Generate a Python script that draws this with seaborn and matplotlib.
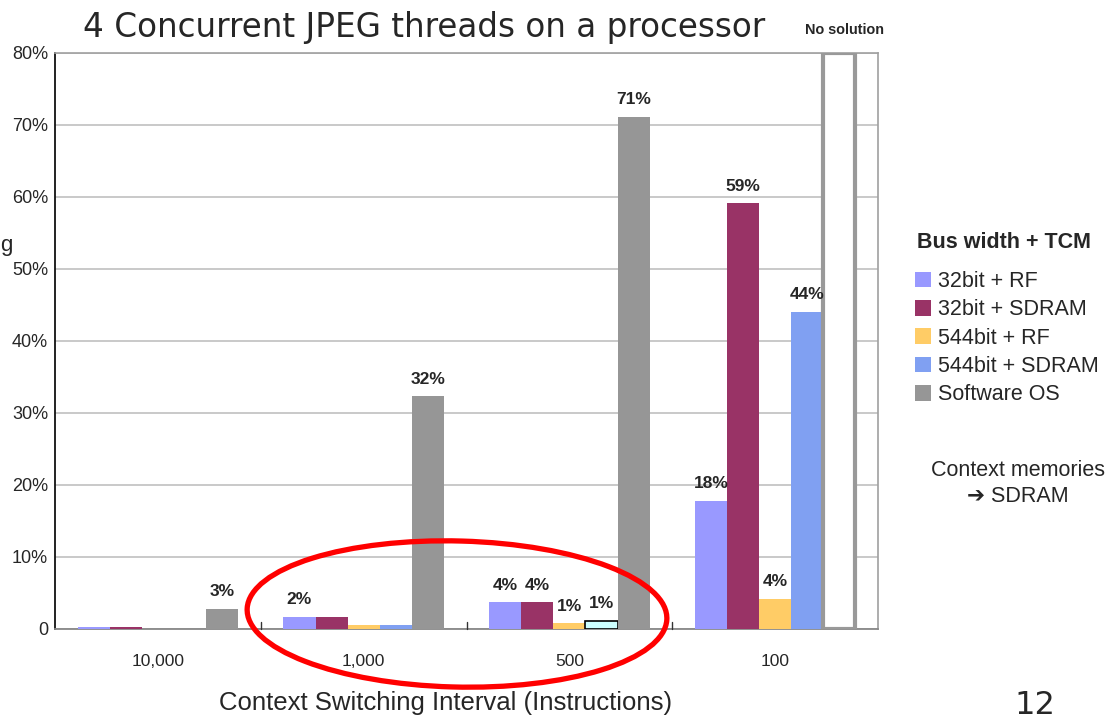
import numpy as np
import pandas as pd
import matplotlib
matplotlib.use("Agg")
import matplotlib.pyplot as plt
import seaborn as sns
from matplotlib.patches import Ellipse, Patch

# ---- data -------------------------------------------------------------
intervals = ["10,000", "1,000", "500", "100"]
series = ["32bit + RF", "32bit + SDRAM", "544bit + RF", "544bit + SDRAM", "Software OS"]

bit32_rf = [0.3, 1.7, 3.7, 17.8]
bit32_sdram = [0.3, 1.7, 3.7, 59.1]
bit544_rf = [0.0, 0.5, 0.8, 4.2]
bit544_sdram = [0.0, 0.6, 1.1, 44.0]
software_os = [2.8, 32.3, 71.1, None]   # no feasible solution at 100 instructions
no_solution_level = 80

# which bars carry a value label
show_label = {
    "32bit + RF":     [False, True, True, True],
    "32bit + SDRAM":  [False, False, True, True],
    "544bit + RF":    [False, False, True, True],
    "544bit + SDRAM": [False, False, True, True],
    "Software OS":    [True, True, True, False],
}

colors = ["#9999ff", "#993366", "#ffcc66", "#80a0f2", "#969696"]
y_ticks = [0, 10, 20, 30, 40, 50, 60, 70, 80]
y_tick_labels = ["0"] + [f"{t}%" for t in y_ticks[1:]]

# ---- frame ------------------------------------------------------------
values = [bit32_rf, bit32_sdram, bit544_rf, bit544_sdram,
          [no_solution_level if v is None else v for v in software_os]]
rows = []
for name, vals in zip(series, values):
    for cat, v in zip(intervals, vals):
        rows.append({"interval": cat, "series": name, "overhead": v})
df = pd.DataFrame(rows)

sns.set_theme(style="white")
plt.rcParams["font.family"] = ["Liberation Sans", "DejaVu Sans"]

fig = plt.figure(figsize=(11.12, 7.2), dpi=100)
ax = fig.add_axes([0.0495, 0.1264, 0.7401, 0.8000])

sns.barplot(data=df, x="interval", y="overhead", hue="series",
            order=intervals, hue_order=series, palette=colors,
            width=0.78, saturation=1, errorbar=None, legend=False, ax=ax,
            linewidth=0, zorder=3)

ax.set_xlim(-0.5, len(intervals) - 0.5)
ax.set_ylim(0, 80)
ax.set_yticks(y_ticks)
ax.set_yticklabels(y_tick_labels, fontsize=13)
ax.set_xticks(range(len(intervals)))
ax.set_xticklabels(intervals, fontsize=12.5)
ax.tick_params(axis="x", length=0, pad=18)
ax.tick_params(axis="y", length=0, pad=5)
# group separators on the category axis
for b in np.arange(0.5, len(intervals) - 0.5, 1.0):
    ax.plot([b, b], [0, 1.0], color="#333333", lw=1, zorder=4, clip_on=False)

ax.yaxis.grid(True, color="#c0c0c0", lw=1.2, zorder=0)
ax.set_axisbelow(True)
ax.spines["left"].set_color("#111111")
ax.spines["left"].set_linewidth(1.3)
ax.spines["bottom"].set_color("#888888")
ax.spines["bottom"].set_linewidth(1.3)
for side in ["top", "right"]:
    ax.spines[side].set_color("#a0a0a0")
    ax.spines[side].set_linewidth(1.2)

ax.set_xlabel("Context Switching Interval (Instructions)", fontsize=18.5)
ax.xaxis.set_label_coords(0.474, -0.128)
ax.xaxis.label.set_va("center")
ax.set_ylabel("")

# ---- restyle special bars & value labels -------------------------------
for name, container in zip(series, ax.containers):
    for bar in container.patches:
        idx = int(round(bar.get_x() + bar.get_width() / 2))
        h = bar.get_height()
        if name == "Software OS" and software_os[idx] is None:
            bar.set_facecolor("white")
            bar.set_edgecolor("#999999")
            bar.set_linewidth(3)
            continue
        if name == "544bit + SDRAM" and intervals[idx] == "500":
            bar.set_facecolor("#ccffff")
            bar.set_edgecolor("black")
            bar.set_linewidth(1.2)
        if show_label[name][idx]:
            ax.annotate(f"{h:.0f}%", (bar.get_x() + bar.get_width() / 2, h),
                        xytext=(0, 7), textcoords="offset points",
                        ha="center", va="bottom", fontsize=12.5,
                        fontweight="bold", zorder=5)

# ---- titles and side notes -------------------------------------------
fig.text(0.0745, 0.9625, "4 Concurrent JPEG threads on a processor",
         fontsize=23.5, family="DejaVu Sans", fontweight="normal",
         ha="left", va="center")
fig.text(0.759, 0.958, "No solution", fontsize=10.4, fontweight="bold",
         ha="center", va="center")
fig.text(0.0, 1 - 245 / 720, "g", fontsize=16, ha="left", va="center")
fig.text(1035 / 1112, 1 - 705 / 720, "12", fontsize=23, family="DejaVu Sans",
         ha="center", va="center")

# legend block
fig.text(917 / 1112, 1 - 242 / 720, "Bus width + TCM", fontsize=15.5,
         fontweight="bold", ha="left", va="center")
handles = [Patch(facecolor=c, edgecolor="none") for c in colors]
leg = fig.legend(handles, series, loc="upper left",
                 bbox_to_anchor=(915 / 1112, 1 - 271 / 720), frameon=False,
                 fontsize=15.5, handlelength=0.75, handleheight=0.75,
                 handletextpad=0.3, labelspacing=0.34, borderpad=0,
                 borderaxespad=0)

fig.text(1018 / 1112, 1 - 483.5 / 720, "Context memories\n\u2794 SDRAM",
         fontsize=15.5, ha="center", va="center", linespacing=1.25,
         family=["Liberation Sans", "DejaVu Sans"])

# highlight ring around the small-overhead groups
ring = Ellipse((457 / 1112, 1 - 614 / 720), 420 / 1112, 146 / 720,
               angle=-2.5, transform=fig.transFigure, facecolor="none",
               edgecolor="#ff0000", linewidth=3.8, zorder=10)
fig.add_artist(ring)

fig.savefig("out.png", dpi=100)
